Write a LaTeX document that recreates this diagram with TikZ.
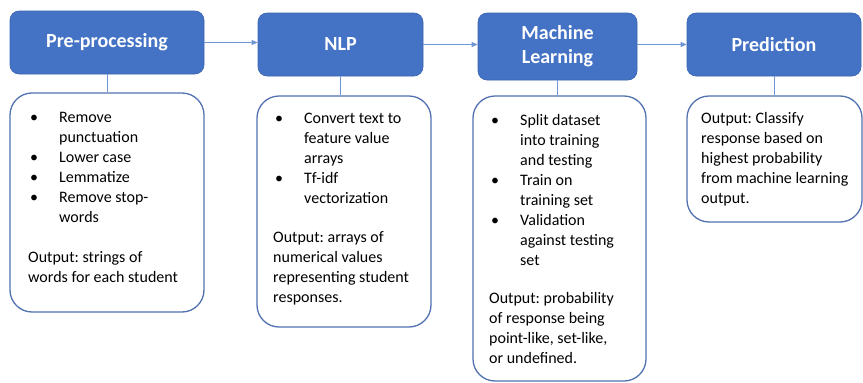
\documentclass[tikz,border=0pt]{standalone}
\usepackage{fontspec}
\setmainfont{Carlito}
\usetikzlibrary{arrows.meta}
\frenchspacing
\definecolor{boxblue}{HTML}{4472C4}
\definecolor{boxedge}{HTML}{3A64B0}
\definecolor{paneledge}{HTML}{5272B0}
\definecolor{linkblue}{HTML}{7096D6}
\newcommand\bul{\makebox[31pt][l]{\hspace{2pt}\textbullet}}
\newcommand\ind{\makebox[31pt][l]{}}
\begin{document}
\begin{tikzpicture}[x=1pt,y=-1pt,
  titlebox/.style={draw=boxedge, line width=0.6pt, fill=boxblue, rounded corners=9pt,
    text=white, align=center, inner sep=0pt, font=\fontsize{20}{24}\selectfont\bfseries},
  panel/.style={draw=paneledge, line width=1.3pt, fill=white, rounded corners=22pt, inner sep=0pt},
  paneltext/.style={anchor=north west, align=left, inner sep=0pt, font=\fontsize{16}{20}\selectfont\frenchspacing},
  link/.style={draw=linkblue, line width=0.8pt},
  flow/.style={link, -{Triangle[length=6pt,width=5pt]}}
]
\useasboundingbox (0,0) rectangle (863,383);

% title boxes
\node[titlebox, minimum width=194pt, minimum height=63pt] (pre) at (107,42.5) {Pre-processing};
\node[titlebox, minimum width=165pt, minimum height=63pt] (nlp) at (340.5,44.5) {NLP};
\node[titlebox, minimum width=159pt, minimum height=67pt] (ml) at (557.5,46.5) {Machine\\Learning};
\node[titlebox, minimum width=174pt, minimum height=63pt] (pred) at (774,44.5) {Prediction};

% panels
\node[panel, minimum width=194pt, minimum height=219pt] (b1) at (107,202.5) {};
\node[panel, minimum width=174pt, minimum height=231pt] (b2) at (344,211.5) {};
\node[panel, minimum width=173pt, minimum height=285pt] (b3) at (559.5,238.5) {};
\node[panel, minimum width=175pt, minimum height=126pt] (b4) at (774.5,159) {};

% panel texts
\node[paneltext] (t1) at (28,112) {\bul Remove\\ \ind punctuation\\ \bul Lower case\\ \bul Lemmatize\\ \bul Remove stop-\\ \ind words\\[20pt] Output: strings of\\ words for each student};
\node[paneltext] (t2) at (273,113) {\bul Convert text to\\ \ind feature value\\ \ind arrays\\ \bul Tf-idf\\ \ind vectorization\\[19pt] Output: arrays of\\ numerical values\\ representing student\\ responses.};
\node[paneltext] (t3) at (489,114) {\bul Split dataset\\ \ind into training\\ \ind and testing\\ \bul Train on\\ \ind training set\\ \bul Validation\\ \ind against testing\\ \ind set\\[18pt] Output: probability\\ of response being\\ point-like, set-like,\\ or undefined.};
\node[paneltext] (t4) at (701,112) {Output: Classify\\ response based on\\ highest probability\\ from machine learning\\ output.};

% connectors
\draw[flow] (pre.east) -- (pre.east -| nlp.west);
\draw[flow] (nlp.east) -- (nlp.east -| ml.west);
\draw[flow] (ml.east |- pred.west) -- (pred.west);
\draw[link] (pre.south) -- (b1.north);
\draw[link] (nlp.south) -- (nlp.south |- b2.north);
\draw[link] (ml.south) -- (ml.south |- b3.north);
\draw[link] (pred.south) -- (pred.south |- b4.north);
\end{tikzpicture}
\end{document}
